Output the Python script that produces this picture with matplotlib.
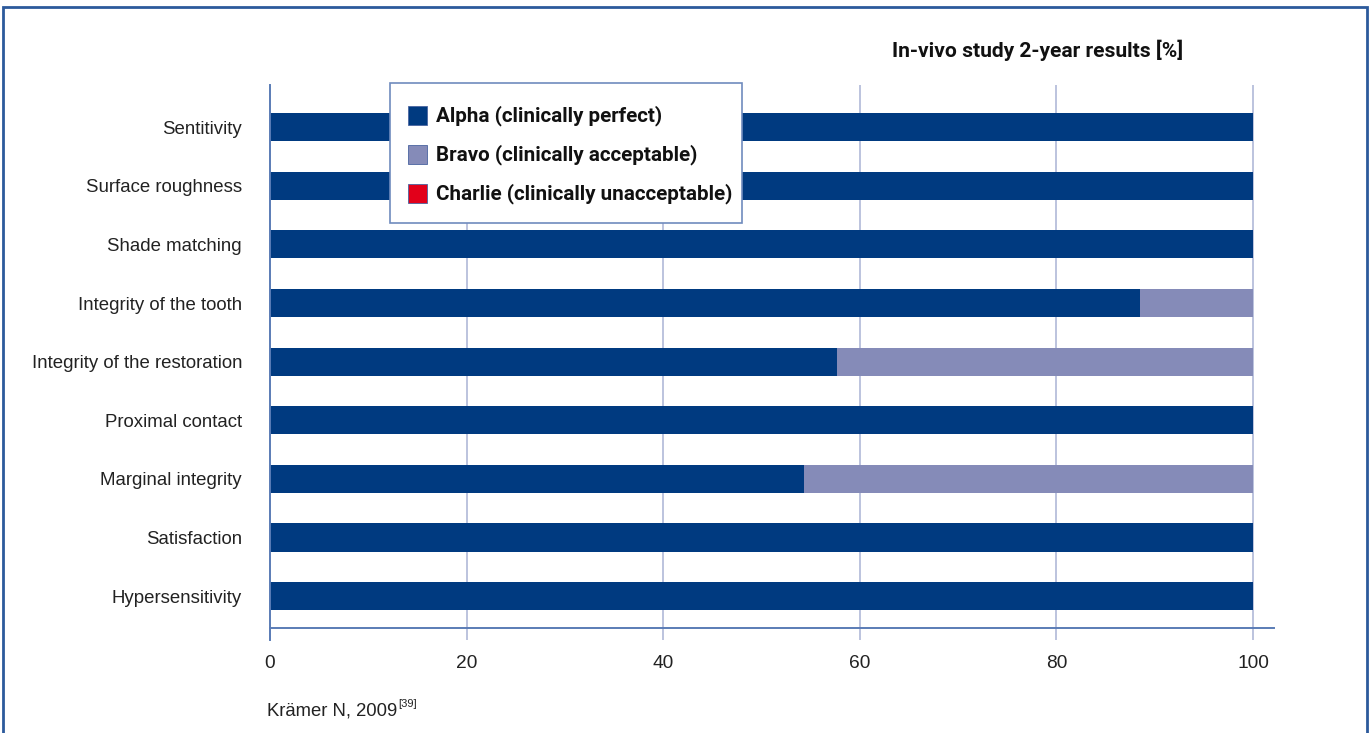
import matplotlib
matplotlib.use("Agg")
import matplotlib.pyplot as plt
from matplotlib.patches import Rectangle
from matplotlib.lines import Line2D
import numpy as np

# Criteria (top to bottom) and 2-year rating shares in percent
criteria = [
    "Sentitivity",
    "Surface roughness",
    "Shade matching",
    "Integrity of the tooth",
    "Integrity of the restoration",
    "Proximal contact",
    "Marginal integrity",
    "Satisfaction",
    "Hypersensitivity",
]
alpha = [100, 100, 100, 88.5, 57.7, 100, 54.3, 100, 100]
bravo = [0, 0, 0, 11.5, 42.3, 0, 45.7, 0, 0]
charlie = [0, 0, 0, 0, 0, 0, 0, 0, 0]

series_labels = [
    "Alpha (clinically perfect)",
    "Bravo (clinically acceptable)",
    "Charlie (clinically unacceptable)",
]
x_ticks = [0, 20, 40, 60, 80, 100]

title = "In-vivo study 2-year results [%]"
source = "Krämer N, 2009"
source_ref = "[39]"

C_ALPHA = "#003A80"
C_BRAVO = "#858BB8"
C_CHARLIE = "#E2001A"
C_GRID = "#AAB3D5"
C_AXIS = "#5A7CB6"
C_FRAME = "#2C5A9C"
series_colors = [C_ALPHA, C_BRAVO, C_CHARLIE]

REG = ["Liberation Sans", "DejaVu Sans"]
BOLD = ["Roboto", "Liberation Sans", "DejaVu Sans"]

W, H, DPI = 1371, 733, 100
fig = plt.figure(figsize=(W / DPI, H / DPI), dpi=DPI)

def fx(px):
    return px / W

def fy(py):
    return 1 - py / H

# outer frame
fig.patches.append(Rectangle((fx(3), fy(760)), fx(1364), (760 - 7) / H,
                             transform=fig.transFigure, fill=False,
                             edgecolor=C_FRAME, linewidth=2, zorder=0))

ax = fig.add_axes([fx(270), fy(628), fx(1274) - fx(270), (628 - 85) / H])
n = len(criteria)
y = np.arange(n)
h = 0.48
ax.barh(y, alpha, height=h, color=C_ALPHA, zorder=3)
ax.barh(y, bravo, left=alpha, height=h, color=C_BRAVO, zorder=3)
left2 = np.array(alpha) + np.array(bravo)
ax.barh(y, charlie, left=left2, height=h, color=C_CHARLIE, zorder=3)

ax.set_xlim(0, 102.14)
ax.set_ylim(n - 1 + 0.545, -0.72)

for xv in x_ticks[1:]:
    ax.axvline(xv, color=C_GRID, linewidth=1.1, zorder=1)

ax.set_xticks(x_ticks)
ax.set_xticklabels([str(v) for v in x_ticks], family=REG, fontsize=13.8, color="#222222")
ax.tick_params(axis="x", direction="out", length=12 * 72 / DPI, width=1.1,
               color=C_GRID, pad=11)
ax.set_yticks(y)
ax.set_yticklabels(criteria, family=REG, fontsize=13.4, color="#222222")
ax.tick_params(axis="y", length=0, pad=28 * 72 / DPI)

for s in ["top", "right"]:
    ax.spines[s].set_visible(False)
ax.spines["bottom"].set_color(C_AXIS)
ax.spines["bottom"].set_linewidth(1.4)
ax.spines["left"].set_color(C_AXIS)
ax.spines["left"].set_linewidth(1.4)
ax.spines["left"].set_zorder(4)
# left axis continues through the tick area below the baseline
ax.add_line(Line2D([0, 0], [n - 1 + 0.545, n - 1 + 0.545 + 12 / 58.6],
                   color=C_AXIS, linewidth=1.4, clip_on=False, zorder=4))

# legend box drawn in figure pixels
fig.patches.append(Rectangle((fx(390), fy(223)), fx(742) - fx(390), (223 - 83) / H,
                             transform=fig.transFigure, facecolor="white",
                             edgecolor="#6F8BBE", linewidth=1.2, zorder=5))
row_y = [115.5, 154.5, 193.5]
for ry, col, lab in zip(row_y, series_colors, series_labels):
    fig.patches.append(Rectangle((fx(407.5), fy(ry + 9.5)), 19 / W, 19 / H,
                                 transform=fig.transFigure, facecolor=col,
                                 edgecolor="#4A64A0", linewidth=0.6, zorder=6))
    fig.text(fx(436), fy(ry - 2), lab, ha="left", va="center_baseline",
             family=BOLD, weight="bold", fontsize=14.9, color="#111111", zorder=7)

fig.text(fx(1038), fy(50), title, ha="center", va="center",
         family=BOLD, weight="bold", fontsize=15.1, color="#111111")

t = fig.text(fx(267), fy(711), source, ha="left", va="center",
             family=REG, fontsize=13.3, color="#222222")
fig.canvas.draw()
bb = t.get_window_extent()
fig.text(bb.x1 / W + 0.0005, fy(704), source_ref, ha="left", va="center",
         family=REG, fontsize=8, color="#222222")

fig.savefig("out.png", dpi=DPI)
